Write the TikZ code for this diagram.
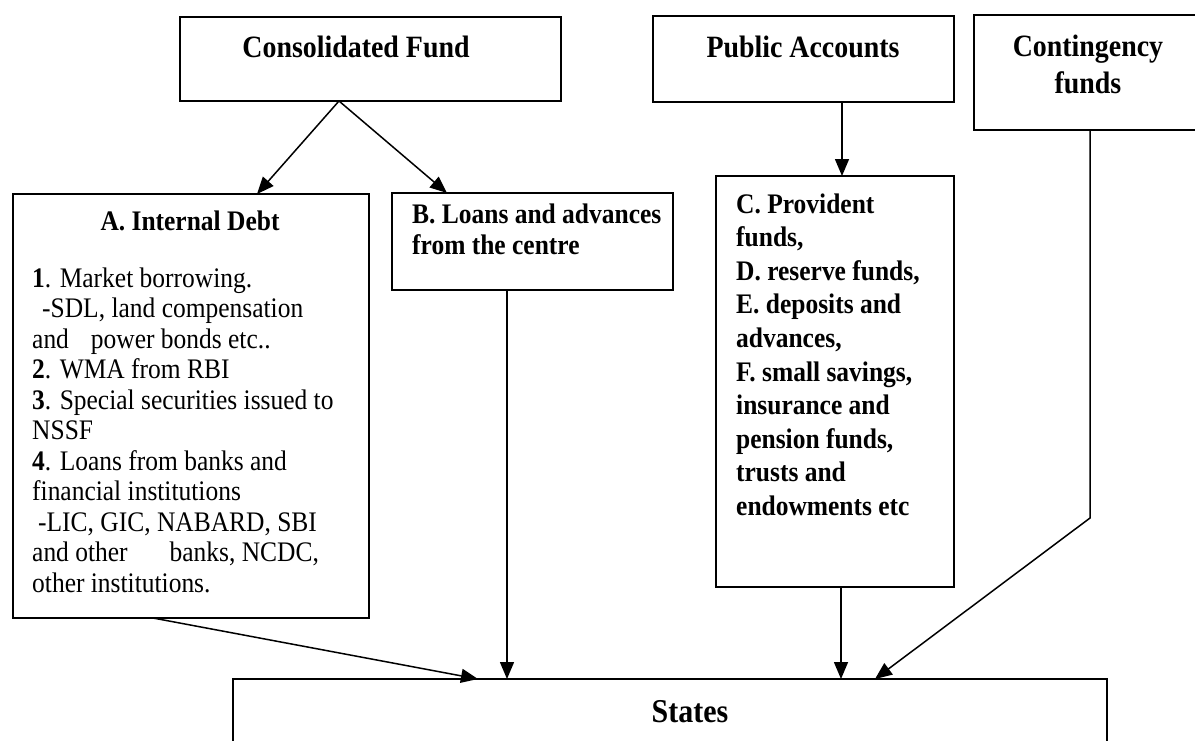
\documentclass[tikz,border=0pt]{standalone}
\usepackage{fontspec}
\setmainfont{Liberation Serif}[FakeStretch=0.9]
\usetikzlibrary{arrows.meta,positioning,calc}
\tikzset{
  box/.style={draw,line width=1.5pt,inner sep=0pt,outer sep=0pt},
  arr/.style={-{Triangle[length=17pt,width=14pt]},line width=1.5pt},
  head/.style={font=\bfseries\fontsize{31}{37}\selectfont,inner sep=0pt,anchor=base},
  item/.style={font=\fontsize{28.3}{34}\selectfont,inner sep=0pt,anchor=base west},
  bitem/.style={item,font=\bfseries\fontsize{28.3}{34}\selectfont}
}

\begin{document}
\begin{tikzpicture}[x=1pt,y=1pt]
  \useasboundingbox (0,0) rectangle (1195,-740);
  \clip (0,0) rectangle (1195,-740);
  % top row
  \node[box,minimum width=381pt,minimum height=84pt] (cf) at (370.5,-59) {};
  \node[head] (cft) at (356,-57) {Consolidated Fund};
  \node[box,minimum width=301pt,minimum height=86pt] (pa) at (803.5,-59) {};
  \node[head] (pat) at (803,-57) {Public Accounts};
  \node[box,minimum width=241pt,minimum height=115pt] (cg) at (1094.5,-72.5) {};
  \node[head] (cgt1) at (1088,-56) {Contingency};
  \node[head] (cgt2) at (1088,-93) {funds};
  % middle row
  \node[box,minimum width=356pt,minimum height=424pt] (debt) at (191,-406) {};
  \node[head,font=\bfseries\fontsize{28.3}{34}\selectfont] (debtt) at (190,-230) {A. Internal Debt};
  \foreach \t [count=\i from 0] in {%
      {\textbf{1}. Market borrowing.},
      {\hspace{10pt}-SDL, land compensation},
      {and\hspace{22pt}power bonds etc..},
      {\textbf{2}. WMA from RBI},
      {\textbf{3}. Special securities issued to},
      {NSSF},
      {\textbf{4}. Loans from banks and},
      {financial institutions},
      {\hspace{6pt}-LIC, GIC, NABARD, SBI},
      {and other\hspace{42pt}banks, NCDC,},
      {other institutions.}} {
    \node[item] (dl\i) at (32,-287-30.5*\i) {\t};
  }
  \node[box,minimum width=281pt,minimum height=97pt] (loans) at (532.5,-241.5) {};
  \node[bitem] (ll0) at (412,-223) {B. Loans and advances};
  \node[bitem] (ll1) at (412,-254) {from the centre};
  \node[box,minimum width=238pt,minimum height=411pt] (prov) at (835,-381.5) {};
  \foreach \t [count=\i from 0] in {%
      {C. Provident},{funds,},{D. reserve funds,},{E. deposits and},
      {advances,},{F. small savings,},{insurance and},{pension funds,},
      {trusts and},{endowments etc}} {
    \node[bitem] (pl\i) at (736,-213-33.6*\i) {\t};
  }
  % bottom
  \node[box,minimum width=874pt,minimum height=111pt] (states) at (670,-734.5) {};
  \node[head,font=\bfseries\fontsize{33.3}{40}\selectfont] (statest) at (690,-722) {States};
  % connectors
  \draw[arr] ([xshift=-31.5pt]cf.south) -- ([xshift=66pt]debt.north);
  \draw[arr] ([xshift=-31.5pt]cf.south) -- ([xshift=-85.5pt]loans.north);
  \draw[arr] ([xshift=38.5pt]pa.south) -- ([xshift=7pt]prov.north);
  \draw[arr] ([xshift=-38pt]debt.south) -- ([xshift=-192pt]states.north);
  \draw[arr] ([xshift=-25.5pt]loans.south) -- ([xshift=-163pt]states.north);
  \draw[arr] ([xshift=6pt]prov.south) -- ([xshift=171pt]states.north);
  \draw[arr] ([xshift=-4.5pt]cg.south) -- ++(0,-388) -- ([xshift=205pt]states.north);
\end{tikzpicture}
\end{document}
